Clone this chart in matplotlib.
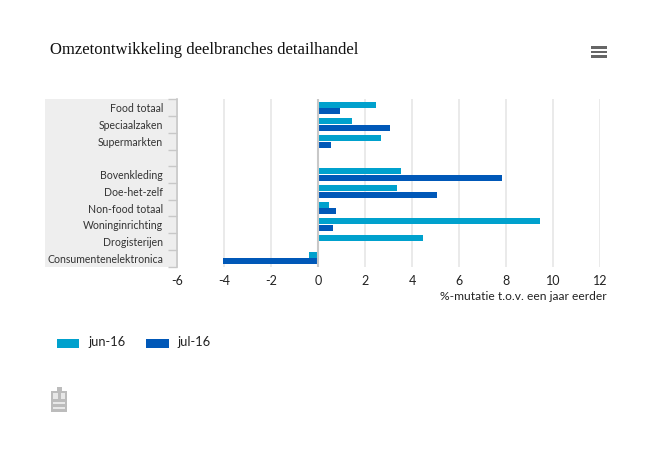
"""Omzetontwikkeling deelbranches detailhandel: horizontal grouped bars."""

import matplotlib
matplotlib.use("Agg")
import matplotlib.pyplot as plt
from matplotlib.patches import Rectangle
import numpy as np

W, H = 650, 450

categories = ["Food totaal", "Speciaalzaken", "Supermarkten", "",
              "Bovenkleding", "Doe-het-zelf", "Non-food totaal",
              "Woninginrichting", "Drogisterijen", "Consumentenelektronica"]
jun_16 = [2.45, 1.45, 2.7, np.nan, 3.55, 3.35, 0.45, 9.45, 4.45, -0.4]
jul_16 = [0.95, 3.05, 0.55, np.nan, 7.85, 5.05, 0.75, 0.65, np.nan, -4.05]
x_ticks = [-6, -4, -2, 0, 2, 4, 6, 8, 10, 12]

JUN_COL = "#00a1cd"
JUL_COL = "#0058b8"
GRID_COL = "#e6e6e6"
AXIS_COL = "#c8c8c8"
TEXT_COL = "#333333"

plt.rcParams["font.family"] = ["Lato", "DejaVu Sans"]
plt.rcParams["axes.unicode_minus"] = False

fig = plt.figure(figsize=(W / 100, H / 100), dpi=100, facecolor="white")


def fig_rect(x0, y0, x1, y1, **kw):
    """Rectangle in pixel coords, y measured from the top of the image."""
    fig.add_artist(Rectangle((x0 / W, 1 - y1 / H), (x1 - x0) / W, (y1 - y0) / H,
                             transform=fig.transFigure, lw=0, zorder=-1, **kw))


# grey panel behind the category labels
fig_rect(45, 99.5, 177, 266.5, color="#eeeeee")

ax = fig.add_axes([177 / W, 1 - 266.5 / H, (600 - 177) / W, 167 / H])
ax.patch.set_alpha(0)

pos = np.arange(len(categories))
bar_h = 0.36
ax.barh(pos - 0.2, jun_16, height=bar_h, color=JUN_COL, zorder=3)
ax.barh(pos + 0.2, jul_16, height=bar_h, color=JUL_COL, zorder=3)

ax.set_xlim(-6, 12)
ax.set_ylim(len(categories) - 0.5, -0.5)
ax.set_xticks(x_ticks)
ax.set_yticks(pos)
ax.set_yticklabels(categories, fontsize=7.6, color=TEXT_COL)
ax.set_yticks(np.arange(len(categories) + 1) - 0.5, minor=True)
ax.tick_params(axis="y", which="major", length=0, pad=10)
ax.tick_params(axis="y", which="minor", length=6.5, width=1, color=AXIS_COL)
ax.tick_params(axis="x", length=0, pad=6, labelsize=9, labelcolor="#222222")
ax.grid(axis="x", color=GRID_COL, lw=1.2, zorder=0)
ax.axvline(0, color=AXIS_COL, lw=1.5, zorder=4)
for side in ["top", "right", "bottom"]:
    ax.spines[side].set_visible(False)
ax.spines["left"].set_color(AXIS_COL)
ax.spines["left"].set_linewidth(1.2)

fig.text(607 / W, 1 - 296 / H, "%-mutatie t.o.v. een jaar eerder", ha="right",
         va="center", fontsize=8.65, color="#222222")

# title
fig.text(50 / W, 1 - 49.5 / H, "Omzetontwikkeling deelbranches detailhandel",
         ha="left", va="center", fontsize=12, color="#111111",
         family="Liberation Serif")

# menu icon
for y in (46, 50.5, 55):
    fig_rect(591, y, 607, y + 2.5, color="#666666")

# legend
fig_rect(57, 339, 79, 347.5, color=JUN_COL)
fig_rect(146, 339, 169, 347.5, color=JUL_COL)
fig.text(88 / W, 1 - 342 / H, "jun-16", va="center", fontsize=9.3, color="#222222")
fig.text(177 / W, 1 - 342 / H, "jul-16", va="center", fontsize=9.3, color="#222222")

# logo
LOGO = "#bcbcbc"
fig_rect(51, 391, 67, 412, color=LOGO)
fig_rect(57, 387, 62, 391, color=LOGO)
for x0, y0, x1, y1 in [(53, 393, 58, 399), (61, 393, 65, 399),
                       (53, 402, 65, 404), (53, 407, 65, 409)]:
    fig_rect(x0, y0, x1, y1, color="#e8e8e8")

fig.savefig("out.png", dpi=100, facecolor="white")
